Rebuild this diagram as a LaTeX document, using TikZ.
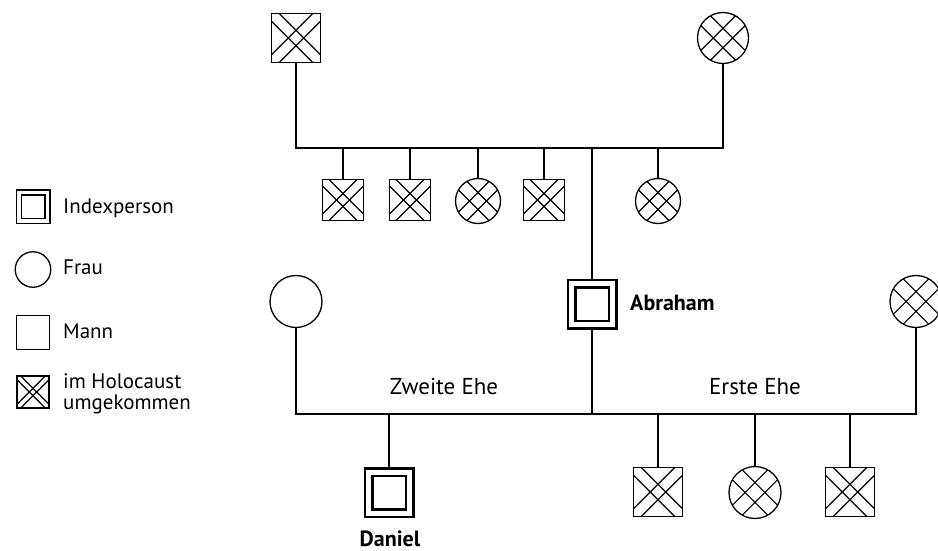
\documentclass[tikz,border=0pt]{standalone}
\usepackage{fontspec}
\setmainfont{PT Sans}
\usetikzlibrary{shapes,calc}

\begin{document}
\begin{tikzpicture}[x=1pt, y=-1pt,
      male/.style ={rectangle, draw=black, line width=1.3pt, fill=white,
        minimum size=48.5pt, inner sep=0pt},
      female/.style ={circle, draw=black, line width=1.3pt, fill=white,
        minimum size=52pt, inner sep=0pt},
      index/.style ={rectangle, draw=black, line width=2.5pt, fill=white,
        minimum size=48.5pt, inner sep=0pt,
        path picture={\draw
          ($(path picture bounding box.south west)+(#1,#1)$) rectangle
          ($(path picture bounding box.north east)-(#1,#1)$);}},
      index/.default=7.5pt,
      dead/.style ={path picture={
        \foreach \p/\q/\r in {north west/north east/south east,
            north west/south west/south east, north east/north west/south west,
            north east/south east/south west}
          \draw[line width=1.2pt]
            ($(path picture bounding box.\p)!#1!(path picture bounding box.\q)$) --
            ($(path picture bounding box.\r)!#1!(path picture bounding box.\q)$);}},
      dead/.default=0.16,
      legend_text/.style ={inner sep=0pt, anchor=base west,
        font=\fontsize{21}{20}\selectfont},
      marriage_text/.style ={inner sep=0pt, anchor=base,
        font=\fontsize{23}{26}\selectfont},
      name_text/.style ={inner sep=0pt,
        font=\fontsize{22}{26}\selectfont\bfseries},
      line/.style ={draw, line width=1.6pt}]
    \useasboundingbox (0,0) rectangle (938,551);
    %
    % 1. legend
    \node [index=5pt, minimum size=33.5pt, line width=1.5pt] (leg_index) at (33,206.5) {};
    \node [legend_text] (leg_index_text) at (63,213) {Indexperson};
    \node [female, minimum size=35.5pt] (leg_female) at (33,269.5) {};
    \node [legend_text] (leg_female_text) at (63,274) {Frau};
    \node [male, minimum size=33.5pt] (leg_male) at (33,332.5) {};
    \node [legend_text] (leg_male_text) at (63,338) {Mann};
    \node [male, dead=0.12, minimum size=32pt] (leg_dead) at (33,392) {};
    \node [legend_text, anchor=west, align=left] (leg_dead_text) at (63,394)
      {im Holocaust\\[1.5pt]umgekommen};
    %
    % 2. parents of Abraham and his siblings
    \node [male, dead] (grandfather) at (296,38) {};
    \node [female, dead=0.19, minimum size=51pt] (grandmother) at (723,38) {};
    \node [male, dead, minimum size=41pt] (sib1) at (343,200) {};
    \node [male, dead, minimum size=41pt] (sib2) at (410,200) {};
    \node [female, dead=0.19, minimum size=45pt] (sib3) at (478,201) {};
    \node [male, dead, minimum size=41pt] (sib4) at (544,200) {};
    \node [female, dead=0.19, minimum size=45pt] (sib5) at (658,201) {};
    \coordinate (sibship) at (592,148);
    %
    % 3. Abraham, his two wives and the children
    \node [index] (abraham) at (592,304) {};
    \node [name_text, anchor=base west] (abraham_name) at (630,310) {Abraham};
    \node [female] (wife2) at (296,301.5) {};
    \node [female, dead=0.19] (wife1) at (916,301.5) {};
    \coordinate (marriage) at (592,414);
    \node [marriage_text] (ehe2) at (444,394) {Zweite Ehe};
    \node [marriage_text] (ehe1) at (755,394) {Erste Ehe};
    \node [index] (daniel) at (389,492.5) {};
    \node [name_text, anchor=base] (daniel_name) at (390,546.5) {Daniel};
    \node [male, dead] (child1) at (658,492) {};
    \node [female, dead=0.19] (child2) at (755,492.5) {};
    \node [male, dead] (child3) at (850,492) {};
    %
    % 4. connecting nodes with paths
    \begin{scope}[every path/.style=line]
      % parents and siblings
      \path (grandfather) |- (sibship) -| (grandmother);
      \path (sib1) -- (sib1 |- sibship);
      \path (sib2) -- (sib2 |- sibship);
      \path (sib3) -- (sib3 |- sibship);
      \path (sib4) -- (sib4 |- sibship);
      \path (sib5) -- (sib5 |- sibship);
      \path (sibship) -- (abraham);
      % marriages
      \path (wife2) |- (marriage) -| (wife1);
      \path (abraham) -- (marriage);
      \path (daniel) -- (daniel |- marriage);
      \path (child1) -- (child1 |- marriage);
      \path (child2) -- (child2 |- marriage);
      \path (child3) -- (child3 |- marriage);
    \end{scope}
\end{tikzpicture}
\end{document}
